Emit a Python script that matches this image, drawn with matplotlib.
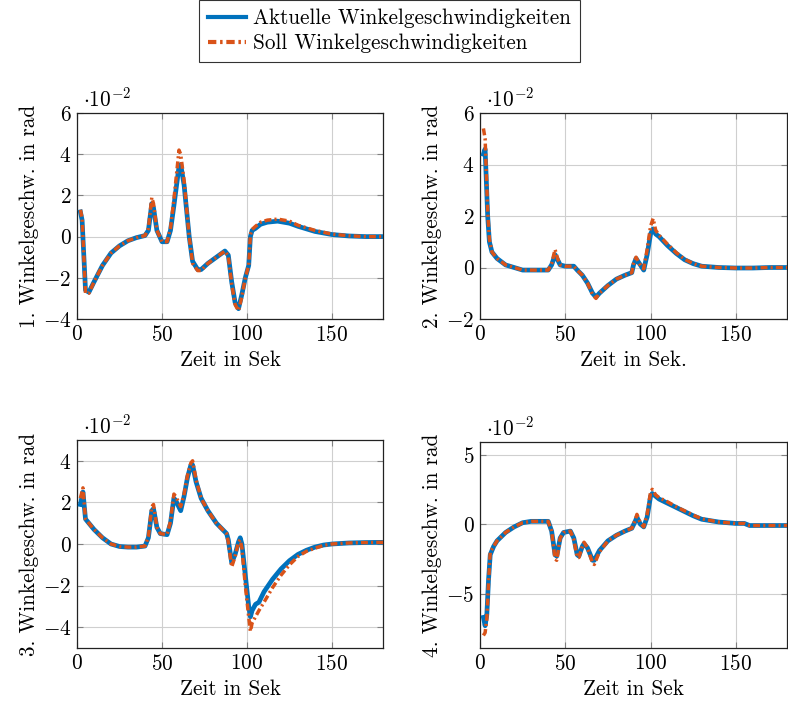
import matplotlib
matplotlib.use("Agg")
import matplotlib.pyplot as plt
from matplotlib.ticker import FixedLocator, FuncFormatter

plt.rcParams['font.family'] = ['cmr10']
plt.rcParams['mathtext.fontset'] = 'cm'
plt.rcParams['axes.unicode_minus'] = False
plt.rcParams['axes.formatter.use_mathtext'] = True

# ---- data (values in units of 1e-2 rad) ----
t1 = [2,3,5,7,10,15,20,25,30,35,40,42,44,45,47,50,53,55,57,60,61,63,66,68,71,73,77,82,87,89,91,93,95,97,99,101,102,103,105,108,112,118,125,130,140,150,160,170,180]
a1 = [1.2,0.8,-2.6,-2.7,-2.2,-1.4,-0.8,-0.45,-0.2,-0.05,0.05,0.3,1.6,1.4,0.3,-0.25,-0.25,0.3,1.5,3.4,3.5,2.5,0.0,-1.2,-1.6,-1.6,-1.3,-1.0,-0.7,-0.9,-2.2,-3.2,-3.5,-2.8,-2.0,-1.4,0.0,0.3,0.4,0.6,0.7,0.75,0.65,0.5,0.25,0.1,0.03,0.0,0.0]
s1 = [1.3,0.9,-2.75,-2.75,-2.2,-1.4,-0.8,-0.45,-0.2,-0.05,0.05,0.4,1.9,1.6,0.3,-0.25,-0.25,0.4,1.8,4.2,4.0,2.7,0.0,-1.3,-1.65,-1.65,-1.3,-1.0,-0.7,-0.95,-2.3,-3.3,-3.6,-2.9,-2.0,-1.4,0.1,0.35,0.5,0.7,0.8,0.85,0.75,0.55,0.3,0.12,0.04,0.0,0.0]

t2 = [2,3,4.5,5.5,7,10,15,20,25,30,40,42,44,45.5,47,50,55,57,60,63,66,68,70,75,80,85,89,90,91.5,93,95,96,98,100,101.5,103,105,110,115,120,125,130,140,150,160,170,180]
a2 = [4.4,4.6,2.0,1.0,0.6,0.35,0.1,0.0,-0.1,-0.1,-0.1,0.1,0.5,0.3,0.1,0.05,0.05,-0.1,-0.3,-0.6,-1.0,-1.15,-1.0,-0.7,-0.45,-0.3,-0.2,0.1,0.35,0.2,0.0,-0.1,0.5,1.3,1.5,1.3,1.2,0.85,0.55,0.3,0.15,0.05,0.0,-0.02,-0.02,0.0,0.0]
s2 = [5.4,5.0,2.2,1.1,0.6,0.35,0.1,0.0,-0.1,-0.1,-0.1,0.15,0.7,0.35,0.1,0.05,0.05,-0.1,-0.3,-0.6,-1.05,-1.2,-1.0,-0.7,-0.45,-0.3,-0.2,0.15,0.4,0.2,0.0,-0.05,0.7,1.6,1.9,1.45,1.25,0.9,0.58,0.32,0.15,0.05,0.0,-0.02,-0.02,0.0,0.0]

t3 = [2,3.5,5,7,10,15,20,25,30,35,40,42,44,45,47,49,53,55,57,58,61,63,65,67,68,70,73,77,82,88,89,91,93,95,96,97,99,101,102,103,105,107,110,115,120,125,130,135,140,145,150,160,170,180]
a3 = [1.9,2.5,1.2,1.0,0.7,0.3,0.0,-0.12,-0.15,-0.15,-0.1,0.3,1.6,1.7,0.8,0.5,0.45,1.0,2.2,2.1,1.6,2.3,3.2,3.8,3.8,3.0,2.2,1.6,1.0,0.5,0.2,-0.9,-0.5,0.1,0.3,0.0,-1.5,-3.0,-3.5,-3.2,-2.9,-2.8,-2.3,-1.7,-1.2,-0.8,-0.5,-0.3,-0.15,-0.05,0.0,0.05,0.07,0.08]
s3 = [2.2,2.7,1.2,1.0,0.7,0.3,0.0,-0.12,-0.15,-0.15,-0.1,0.35,1.8,1.9,0.8,0.5,0.45,1.1,2.4,2.3,1.8,2.4,3.3,3.9,4.0,3.1,2.2,1.6,1.0,0.5,0.1,-1.1,-0.6,0.1,0.2,-0.2,-2.0,-3.5,-4.2,-3.8,-3.5,-3.2,-2.8,-2.1,-1.5,-1.0,-0.6,-0.35,-0.2,-0.07,0.0,0.05,0.07,0.08]

t4 = [2,3,4,5,6,8,10,15,20,25,30,35,40,42,44,45,47,49,53,55,57,58,60,61,63,66,67,70,75,80,85,89,91,92,94,96,98,100,101,103,105,110,115,120,125,130,140,150,155,158,165,170,180]
a4 = [-6.7,-7.3,-6.5,-4.0,-2.2,-1.6,-1.2,-0.6,-0.2,0.1,0.2,0.2,0.2,-0.5,-2.2,-2.3,-1.0,-0.6,-0.5,-1.0,-2.2,-2.3,-1.6,-1.4,-1.7,-2.6,-2.6,-1.9,-1.2,-0.8,-0.5,-0.3,0.2,0.5,0.0,-0.2,0.5,2.0,2.2,2.0,1.8,1.5,1.2,0.9,0.6,0.35,0.15,0.05,0.05,-0.1,-0.1,-0.1,-0.1]
s4 = [-8.0,-7.8,-6.8,-4.2,-2.0,-1.6,-1.2,-0.6,-0.2,0.1,0.2,0.2,0.2,-0.5,-2.5,-2.6,-1.0,-0.6,-0.5,-1.1,-2.4,-2.4,-1.6,-1.3,-1.7,-2.8,-2.9,-2.0,-1.2,-0.8,-0.5,-0.3,0.3,0.7,0.1,-0.2,0.7,2.3,2.5,2.1,1.9,1.6,1.25,0.95,0.65,0.38,0.15,0.05,0.05,-0.1,-0.1,-0.1,-0.1]

xticks = [0, 50, 100, 150]
yticks = [[-4, -2, 0, 2, 4, 6], [-2, 0, 2, 4, 6], [-4, -2, 0, 2, 4], [-5, 0, 5]]
ylims = [(-4, 6), (-2, 6), (-5, 5), (-8.9, 5.9)]
ylabels = ["1. Winkelgeschw. in rad", "2. Winkelgeschw. in rad",
           "3. Winkelgeschw. in rad", "4. Winkelgeschw. in rad"]
xlabels = ["Zeit in Sek", "Zeit in Sek.", "Zeit in Sek", "Zeit in Sek"]
legend_labels = ["Aktuelle Winkelgeschwindigkeiten", "Soll Winkelgeschwindigkeiten"]

BLUE = "#0072BD"
RED = "#D95319"

W, H = 788, 707
fig = plt.figure(figsize=(W / 100, H / 100), dpi=100)

boxes = [(77, 113, 383, 319), (480, 113, 787, 319), (77, 440, 383, 648), (480, 442, 787, 648)]
series = [(t1, a1, s1), (t2, a2, s2), (t3, a3, s3), (t4, a4, s4)]

fs = 15.3

def fmt(v, pos):
    v = int(round(v))
    return r"$%d$" % v

handles = None
for i, ((l, tp, r, b), (t, a, s)) in enumerate(zip(boxes, series)):
    ax = fig.add_axes([l / W, (H - b) / H, (r - l) / W, (b - tp) / H])
    h1, = ax.plot(t, a, color=BLUE, lw=3.4, solid_joinstyle='round', zorder=3)
    h2, = ax.plot(t, s, color=RED, lw=2.5, dashes=(2.0, 0.9, 0.6, 0.9), zorder=4)
    handles = [h1, h2]
    ax.set_xlim(0, 180)
    ax.set_ylim(*ylims[i])
    ax.xaxis.set_major_locator(FixedLocator(xticks))
    ax.yaxis.set_major_locator(FixedLocator(yticks[i]))
    ax.xaxis.set_major_formatter(FuncFormatter(fmt))
    ax.yaxis.set_major_formatter(FuncFormatter(fmt))
    ax.grid(True, color="#cfcfcf", lw=0.8)
    ax.set_axisbelow(True)
    ax.tick_params(direction='in', length=4, width=0.8, color="#808080",
                   labelsize=fs, top=True, right=True, pad=4)
    for sp in ax.spines.values():
        sp.set_linewidth(0.9)
        sp.set_color("#222222")
    ax.set_xlabel(xlabels[i], fontsize=fs, labelpad=4)
    ax.set_ylabel(ylabels[i], fontsize=fs, labelpad=3)
    ax.text(0.02, 1.01, r"$\cdot 10^{-2}$", transform=ax.transAxes,
            ha='left', va='bottom', fontsize=fs)

leg = fig.legend(handles, legend_labels, loc='center',
                 bbox_to_anchor=(389.5 / W, 1 - 31 / H), fontsize=fs,
                 frameon=True, fancybox=False, edgecolor='black',
                 handlelength=1.8, borderpad=0.4, labelspacing=0.25,
                 handletextpad=0.35, borderaxespad=0)
leg.get_frame().set_linewidth(0.8)
for ln in leg.get_lines():
    ln.set_linewidth(3.0)

fig.savefig("out.png", dpi=100)
